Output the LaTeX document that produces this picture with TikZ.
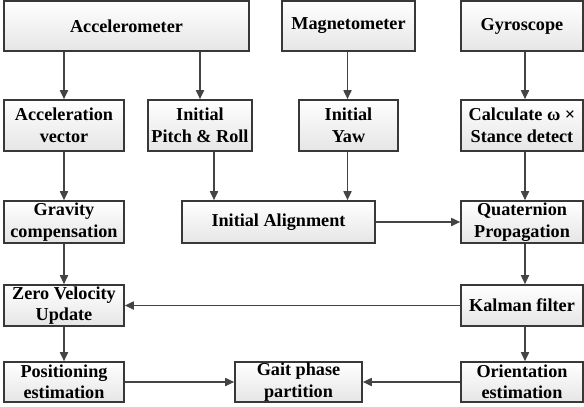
\documentclass[tikz,border=0pt]{standalone}
\usepackage{fontspec}
\setmainfont{Liberation Serif}
\usetikzlibrary{arrows.meta,shadows}
\definecolor{edge}{HTML}{383838}
\definecolor{arr}{HTML}{444444}
\begin{document}
\begin{tikzpicture}[x=1pt,y=-1pt,
  box/.style={draw=edge,line width=1.6pt,rectangle,inner sep=0pt,
    top color=white,bottom color=black!10,align=center,
    font=\fontsize{18.2}{21.5}\selectfont\bfseries,
    drop shadow={shadow xshift=0.9pt,shadow yshift=-0.9pt,opacity=0.35,fill=black!60}},
  link/.style={draw=arr,line width=1.7pt,-{Triangle[length=9pt,width=8pt]}}]
\useasboundingbox (0,0) rectangle (584,407);
% row 1
\node[box,minimum width=245pt,minimum height=50pt] (acc) at (126.5,26) {Accelerometer};
\node[box,minimum width=133pt,minimum height=50pt] (mag) at (348.5,26) {Magnetometer};
\node[box,minimum width=122pt,minimum height=50pt] (gyr) at (522,26) {Gyroscope};
% row 2
\node[box,minimum width=120pt,minimum height=51pt] (av) at (64,125.5) {Acceleration\\vector};
\node[box,minimum width=104pt,minimum height=51pt] (pr) at (200,125.5) {Initial\\Pitch \& Roll};
\node[box,minimum width=99pt,minimum height=51pt] (yaw) at (348.5,125.5) {Initial\\Yaw};
\node[box,minimum width=122pt,minimum height=51pt] (cal) at (522,125.5) {Calculate ω ×\\Stance detect};
% row 3
\node[box,minimum width=120pt,minimum height=42pt] (gc) at (64,222) {Gravity\\compensation};
\node[box,minimum width=193pt,minimum height=42pt] (ia) at (278.5,222) {Initial Alignment};
\node[box,minimum width=122pt,minimum height=42pt] (qp) at (522,222) {Quaternion\\Propagation};
% row 4
\node[box,minimum width=120pt,minimum height=41pt] (zvu) at (64,305.5) {Zero Velocity\\Update};
\node[box,minimum width=122pt,minimum height=41pt] (kf) at (522,305.5) {Kalman filter};
% row 5
\node[box,minimum width=120pt,minimum height=40pt] (pe) at (64,382) {Positioning\\estimation};
\node[box,minimum width=127pt,minimum height=40pt] (gp) at (298.5,382) {Gait phase\\partition};
\node[box,minimum width=122pt,minimum height=40pt] (oe) at (522,382) {Orientation\\estimation};
% connectors
\draw[link] (acc.south -| av.north) -- (av.north);
\draw[link] (acc.south -| pr.north) -- (pr.north);
\draw[link] ([xshift=-1pt]mag.south) -- ([xshift=-1pt]yaw.north);
\draw[link] ([xshift=3pt]gyr.south) -- ([xshift=3pt]cal.north);
\draw[link] (av.south) -- (gc.north);
\draw[link] ([xshift=14pt]pr.south) -- ([xshift=14pt]pr.south |- ia.north);
\draw[link] ([xshift=-1pt]yaw.south) -- ([xshift=-1pt]yaw.south |- ia.north);
\draw[link] ([xshift=3pt]cal.south) -- ([xshift=3pt]qp.north);
\draw[link] (ia.east) -- (qp.west);
\draw[link] (gc.south) -- (zvu.north);
\draw[link] ([xshift=3pt]qp.south) -- ([xshift=3pt]kf.north);
\draw[link] (kf.west) -- (zvu.east);
\draw[link] (zvu.south) -- (pe.north);
\draw[link] ([xshift=3pt]kf.south) -- ([xshift=3pt]oe.north);
\draw[link] (pe.east) -- (gp.west);
\draw[link] (oe.west) -- (gp.east);
\end{tikzpicture}
\end{document}
